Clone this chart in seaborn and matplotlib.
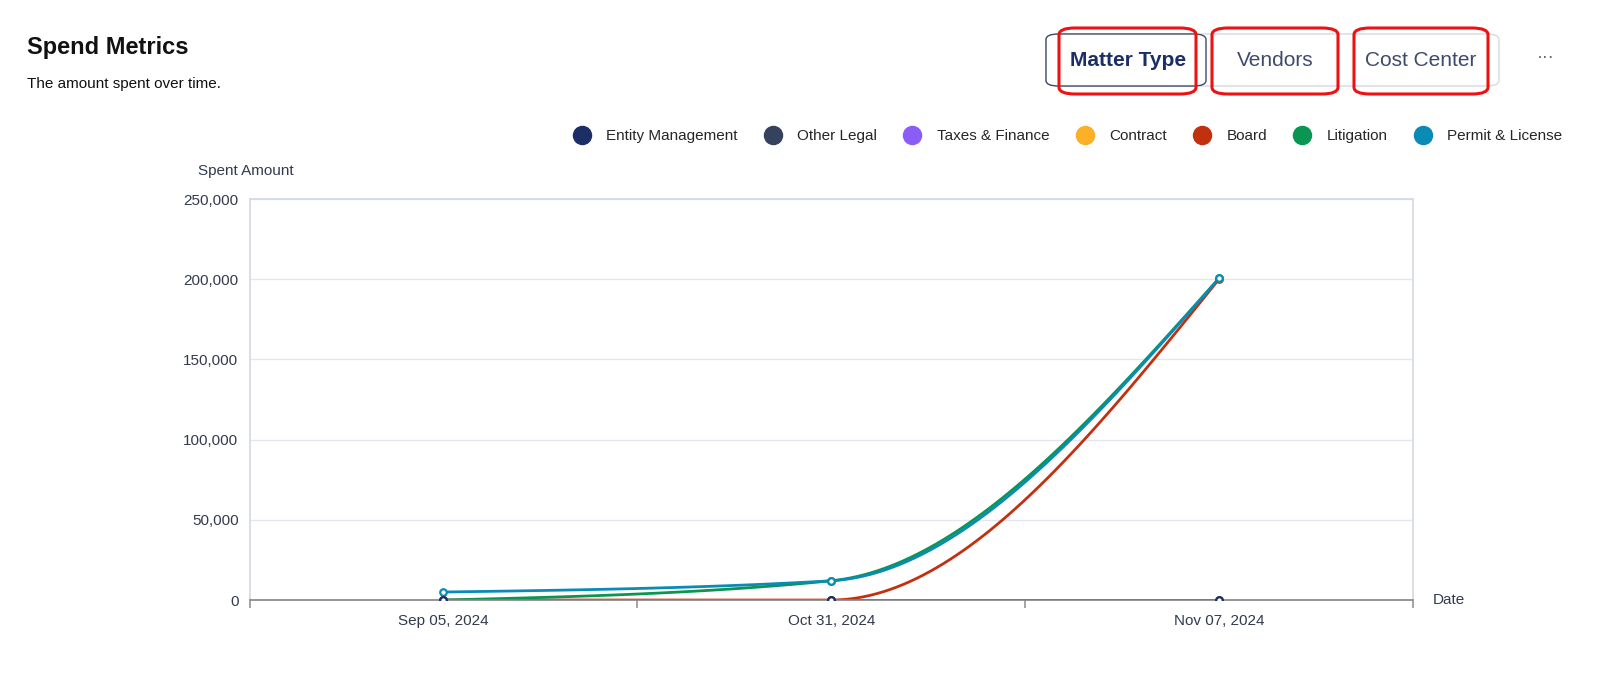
import matplotlib.pyplot as plt
from matplotlib.patches import FancyBboxPatch
from matplotlib.lines import Line2D
import seaborn as sns
import numpy as np

dates = ["Sep 05, 2024", "Oct 31, 2024", "Nov 07, 2024"]
series_names = ["Entity Management", "Other Legal", "Taxes & Finance", "Contract",
                "Board", "Litigation", "Permit & License"]
series_colors = ["#1b2f66", "#34425e", "#8b5cf6", "#fbb025", "#c2310f", "#0a9553", "#0a8bb5"]
entity_vals = [0, 0, 0]
other_vals = [0, 0, 0]
board_vals = [0, 0, 200000]
litigation_vals = [0, 12000, 200500]
permit_vals = [5000, 12000, 200500]
yticks = [0, 50000, 100000, 150000, 200000, 250000]

# what gets drawn, in draw order
drawn = [("Board", board_vals), ("Litigation", litigation_vals),
         ("Permit & License", permit_vals), ("Other Legal", other_vals),
         ("Entity Management", entity_vals)]


def monotone_x(xs, ys, n=60):
    # same smoothing as d3.curveMonotoneX
    xs = np.asarray(xs, float); ys = np.asarray(ys, float)
    h = np.diff(xs); s = np.diff(ys) / h
    t = np.zeros(len(xs))
    for i in range(1, len(xs) - 1):
        p = (s[i-1] * h[i] + s[i] * h[i-1]) / (h[i-1] + h[i])
        t[i] = (np.sign(s[i-1]) + np.sign(s[i])) * min(abs(s[i-1]), abs(s[i]), 0.5 * abs(p))
    t[0] = (3 * s[0] - t[1]) / 2
    t[-1] = (3 * s[-1] - t[-2]) / 2
    px, py = [], []
    u = np.linspace(0, 1, n)
    for i in range(len(xs) - 1):
        dx = h[i] / 3
        P = [(xs[i], ys[i]), (xs[i] + dx, ys[i] + dx * t[i]),
             (xs[i+1] - dx, ys[i+1] - dx * t[i+1]), (xs[i+1], ys[i+1])]
        b = [(1-u)**3, 3*u*(1-u)**2, 3*u**2*(1-u), u**3]
        px += list(sum(b[k] * P[k][0] for k in range(4)))
        py += list(sum(b[k] * P[k][1] for k in range(4)))
    return px, py


sns.set_theme(style="white")
plt.rcParams['font.family'] = ['Liberation Sans', 'DejaVu Sans']

fig = plt.figure(figsize=(16, 6.8), dpi=100)
ax = fig.add_axes([0.156, 0.1176, 0.727, 0.5897])

xpos = np.arange(len(dates)) + 0.5
cmap = dict(zip(series_names, series_colors))
for name, vals in drawn:
    px, py = monotone_x(xpos, vals)
    sns.lineplot(x=px, y=py, ax=ax, color=cmap[name], lw=2, sort=False, estimator=None)
    ax.scatter(xpos, vals, s=22, facecolor="white", edgecolor=cmap[name], lw=1.6, zorder=5)

ax.set_xlim(0, 3)
ax.set_ylim(0, 250000)
ax.set_yticks(yticks)
ax.set_yticklabels([f"{v:,}" for v in yticks], fontsize=11, color="#333a4d")
ax.set_xticks([0, 1, 2, 3])
ax.set_xticklabels([])
ax.set_xticks(xpos, minor=True)
ax.set_xticklabels(dates, minor=True, fontsize=11, color="#333a4d")
ax.tick_params(axis="x", which="major", length=6, color="#999999", direction="out", bottom=True)
ax.tick_params(axis="x", which="minor", length=0, pad=10)
ax.tick_params(axis="y", length=0, pad=8)
ax.grid(axis="y", color="#e3e6f0", lw=1)
for sp in ["top", "right", "left"]:
    ax.spines[sp].set_color("#d5d9e2")
ax.spines["bottom"].set_color("#888888")
ax.text(-0.044, 1.06, "Spent Amount", transform=ax.transAxes, fontsize=11, color="#333a4d")
ax.text(1.017, 0.0, "Date", transform=ax.transAxes, fontsize=11, color="#333a4d", va="center")

fig.text(0.017, 0.92, "Spend Metrics", fontsize=17, fontweight="bold", color="#111111")
fig.text(0.017, 0.87, "The amount spent over time.", fontsize=11, color="#111111")

handles = [Line2D([], [], marker="o", ls="", markersize=13, color=c) for c in series_colors]
fig.legend(handles, series_names, loc="center right", bbox_to_anchor=(0.985, 0.80), ncol=7,
           frameon=False, fontsize=11, handletextpad=0.6, columnspacing=1.3)

# header buttons
fig.patches.append(FancyBboxPatch((1046/1600, 1 - 86/680), 453/1600, 52/680,
                                  boxstyle="round,pad=0,rounding_size=0.008",
                                  transform=fig.transFigure, fc="white", ec="#d5d9e2", lw=1))
fig.patches.append(FancyBboxPatch((1046/1600, 1 - 86/680), 160/1600, 52/680,
                                  boxstyle="round,pad=0,rounding_size=0.008",
                                  transform=fig.transFigure, fc="white", ec="#3e4a6b", lw=1))
for x0, w in [(1059, 137), (1212, 126), (1354, 134)]:
    fig.patches.append(FancyBboxPatch((x0/1600, 1 - 94/680), w/1600, 66/680,
                                      boxstyle="round,pad=0,rounding_size=0.01",
                                      transform=fig.transFigure, fc="none", ec="#ee1111", lw=2.2))
fig.text(1128/1600, 1 - 60/680, "Matter Type", fontsize=15, fontweight="bold", color="#1b2f66", ha="center", va="center")
fig.text(1275/1600, 1 - 60/680, "Vendors", fontsize=15, color="#3e4a6b", ha="center", va="center")
fig.text(1421/1600, 1 - 60/680, "Cost Center", fontsize=15, color="#3e4a6b", ha="center", va="center")
fig.text(1546/1600, 1 - 58/680, "···", fontsize=13, color="#666666", ha="center", va="center")

fig.savefig("out.png", dpi=100)
